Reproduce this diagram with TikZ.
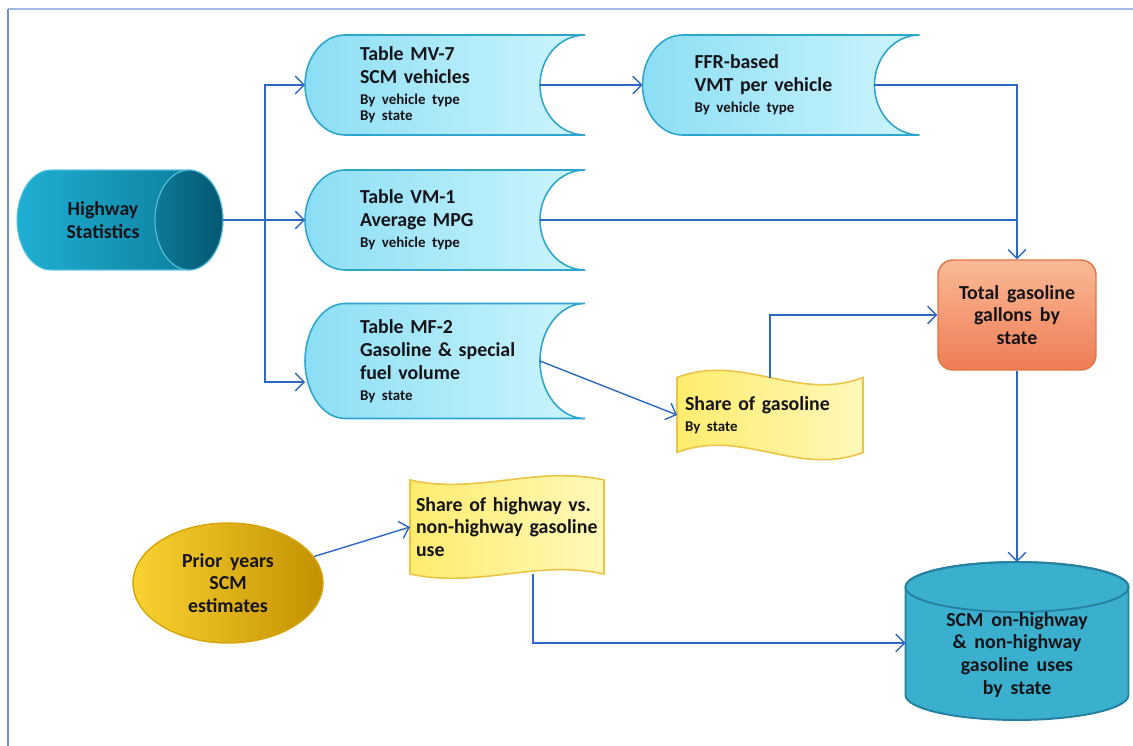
\documentclass[tikz,border=0pt]{standalone}
\usepackage{fontspec}
\setmainfont{Carlito}
\usetikzlibrary{arrows.meta,shapes.geometric,backgrounds,calc}

\definecolor{flowblue}{RGB}{45,105,195}
\definecolor{ink}{RGB}{20,20,25}
\definecolor{storeA}{RGB}{140,222,245}
\definecolor{storeB}{RGB}{205,245,253}
\definecolor{storeline}{RGB}{45,165,205}
\definecolor{tapeA}{RGB}{255,236,110}
\definecolor{tapeB}{RGB}{255,248,185}
\definecolor{tapeline}{RGB}{235,195,70}
\definecolor{totA}{RGB}{250,185,150}
\definecolor{totB}{RGB}{238,125,85}
\definecolor{totline}{RGB}{225,115,65}
\definecolor{hwA}{RGB}{30,175,210}
\definecolor{hwB}{RGB}{12,120,150}
\definecolor{hwC}{RGB}{5,88,112}
\definecolor{hwline}{RGB}{90,195,225}
\definecolor{goldA}{RGB}{250,210,50}
\definecolor{goldB}{RGB}{195,145,0}
\definecolor{goldline}{RGB}{215,165,10}
\definecolor{scmfill}{RGB}{58,176,206}
\definecolor{scmline}{RGB}{38,128,160}
\definecolor{frameA}{RGB}{160,185,220}
\definecolor{frameB}{RGB}{105,145,210}

\newcommand{\widespaces}{\spaceskip=4.5pt\relax}
\newcommand{\smalltext}[1]{{\fontsize{8.5}{9.5}\selectfont #1}}
\newcommand{\storeshape}[2]{%
  \shadedraw[left color=storeA, right color=storeB, draw=storeline, line width=0.9pt]
    ([xshift=0.8cm]#1.north west) -- (#1.north east)
    arc[start angle=90, end angle=270, x radius=0.9cm, y radius=#2]
    -- ([xshift=0.8cm]#1.south west)
    arc[start angle=270, end angle=90, x radius=0.8cm, y radius=#2] -- cycle;}
\newcommand{\tapeshape}[2]{%
  \shadedraw[left color=tapeA, right color=tapeB, draw=tapeline, line width=0.9pt]
    (#1.north west) .. controls ($(#1.north west)!0.35!(#1.north east)+(0,#2)$)
    and ($(#1.north west)!0.65!(#1.north east)-(0,#2)$) .. (#1.north east)
    -- (#1.south east) .. controls ($(#1.south west)!0.65!(#1.south east)-(0,#2)$)
    and ($(#1.south west)!0.35!(#1.south east)+(0,#2)$) .. (#1.south west) -- cycle;}

\begin{document}
\begin{tikzpicture}[x=0.02cm, y=0.02cm, >={Straight Barb[length=5pt,width=10pt]},
    font=\fontsize{11.3}{13}\selectfont\bfseries\widespaces, text=ink,
    flow/.style={draw=flowblue, line width=0.8pt},
    store/.style={minimum height=2cm, inner xsep=1.1cm, inner ysep=0pt, outer sep=0pt, align=left},
    tape/.style={inner xsep=0.16cm, inner ysep=0pt, outer sep=0pt, align=left}]
  \useasboundingbox (0,0) rectangle (1133,-746);
  \draw[frameA, line width=1.2pt] (8,-9) -- (1133,-9);
  \draw[frameB, line width=1.2pt] (8,-9) -- (8,-746);

  \node[minimum width=3.44cm, minimum height=2cm, inner sep=0pt, outer sep=0pt, align=center] (hw) at (103,-220) {Highway\\Statistics};
  \node[store, text width=3.4cm] (mv7) at (445,-85)
    {Table MV-7\\SCM~vehicles\\[-1pt]\smalltext{By~vehicle~type}\\[-4pt]\smalltext{By~state}};
  \node[store, text width=3.46cm, inner xsep=1.04cm] (ffr) at (781,-85)
    {FFR-based\\VMT~per~vehicle\\[-1pt]\smalltext{By~vehicle~type}};
  \node[store, text width=3.4cm] (vm1) at (445,-220)
    {Table VM-1\\Average~MPG\\[-1pt]\smalltext{By~vehicle~type}};
  \node[store, text width=3.4cm, minimum height=2.3cm] (mf2) at (445,-361)
    {Table MF-2\\Gasoline~\&~special\\fuel~volume\\[-1pt]\smalltext{By~state}};
  \node[tape, text width=3.4cm, minimum height=1.5cm] (sg) at (770,-415)
    {Share~of~gasoline\\[-1pt]\smalltext{By~state}};
  \node[draw=totline, line width=0.8pt, rounded corners=0.3cm, top color=totA, bottom color=totB,
    minimum width=3.16cm, minimum height=2.2cm, align=center] (tot) at (1017,-315) {Total gasoline\\gallons by\\state};
  \node[tape, text width=3.64cm, inner xsep=0.12cm, minimum height=1.88cm] (sh) at (507,-527)
    {Share~of~highway~vs.\\\mbox{non-highway~gasoline}\\use};
  \node[ellipse, minimum width=3.8cm, minimum height=2.4cm, left color=goldA, right color=goldB,
    draw=goldline, line width=0.8pt, align=center] (prior) at (228,-583) {Prior years\\SCM\\estimates};
  \node[minimum width=4.46cm, inner sep=0pt, outer sep=0pt, align=center] (scm) at (1017,-655)
    {SCM on-highway\\\& non-highway\\gasoline uses\\by state};

  \begin{scope}[on background layer]
    \shadedraw[left color=hwA, right color=hwB, draw=hwline, line width=0.6pt]
      ([xshift=0.68cm]hw.north west) -- (hw.north east)
      arc[start angle=90, end angle=-90, x radius=0.68cm, y radius=1cm]
      -- ([xshift=0.68cm]hw.south west)
      arc[start angle=270, end angle=90, x radius=0.68cm, y radius=1cm] -- cycle;
    \shadedraw[left color=hwB, right color=hwC, draw=hwline, line width=0.6pt]
      (hw.east) ellipse [x radius=0.68cm, y radius=1cm];
    \filldraw[fill=scmfill, draw=scmline, line width=1.1pt]
      ([yshift=1.36cm]scm.west) -- ([yshift=-0.8cm]scm.west)
      arc[start angle=180, end angle=360, x radius=2.23cm, y radius=0.5cm]
      -- ([yshift=1.36cm]scm.east)
      arc[start angle=0, end angle=180, x radius=2.23cm, y radius=0.5cm] -- cycle;
    \draw[scmline, line width=1.1pt] ([yshift=1.36cm]scm.center) ellipse [x radius=2.23cm, y radius=0.5cm];
    \storeshape{mv7}{1cm}
    \storeshape{ffr}{1cm}
    \storeshape{vm1}{1cm}
    \storeshape{mf2}{1.15cm}
    \tapeshape{sg}{0.5cm}
    \tapeshape{sh}{-0.3cm}
  \end{scope}

  \coordinate (fork) at (265,-220);
  \draw[flow, ->] ([xshift=0.68cm]hw.east) -- (vm1.west);
  \draw[flow, ->] (fork) |- (mv7.west);
  \draw[flow, ->] (fork) |- ([yshift=-0.42cm]mf2.west);
  \draw[flow, ->] ([xshift=-0.9cm]mv7.east) -- (ffr.west);
  \draw[flow, ->] ([xshift=-0.9cm]ffr.east) -| (tot.north);
  \draw[flow] ([xshift=-0.9cm]vm1.east) -- (vm1.east -| tot.north);
  \draw[flow, ->] ([xshift=-0.9cm]mf2.east) -- (sg.west);
  \draw[flow, ->] (sg.north) |- (tot.west);
  \draw[flow, ->] (tot.south) -- ([yshift=1.86cm]scm.center);
  \draw[flow, ->] (prior) -- (sh.west);
  \draw[flow, ->] ([xshift=0.52cm]sh.south) |- ([yshift=0.24cm]scm.west);
\end{tikzpicture}
\end{document}
